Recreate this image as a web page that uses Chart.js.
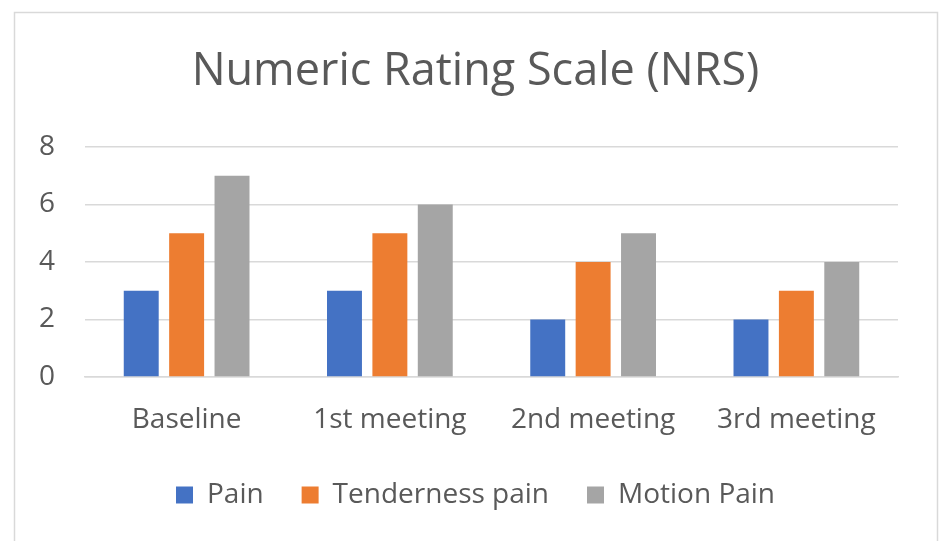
<!DOCTYPE html>
<html><head><meta charset="utf-8">
<script src="https://cdn.jsdelivr.net/npm/chart.js@4"></script>
<style>html,body{margin:0;padding:0;background:#fff}#wrap{width:944px;height:541px}</style>
</head><body><div id="wrap"><canvas id="c" width="944" height="541"></canvas></div>
<script>
const categories = ["Baseline", "1st meeting", "2nd meeting", "3rd meeting"];
const painValues = [3, 3, 2, 2];
const tendernessValues = [5, 5, 4, 3];
const motionValues = [7, 6, 5, 4];
const seriesNames = ["Pain", "Tenderness pain", "Motion Pain"];
const yTicks = [0, 2, 4, 6, 8];

const frame = {
  id: 'frame',
  beforeDraw(chart) {
    const ctx = chart.ctx;
    ctx.save();
    ctx.fillStyle = '#fff';
    ctx.fillRect(0, 0, chart.width, chart.height);
    ctx.strokeStyle = '#D9D9D9';
    ctx.lineWidth = 1.5;
    ctx.strokeRect(14.5, 12.5, 923, 600);
    ctx.restore();
  }
};

Chart.defaults.font.family = "'Open Sans', sans-serif";
Chart.defaults.color = '#595959';

new Chart(document.getElementById('c'), {
  type: 'bar',
  data: {
    labels: categories,
    datasets: [
      { label: seriesNames[0], data: painValues, backgroundColor: '#4472C4' },
      { label: seriesNames[1], data: tendernessValues, backgroundColor: '#ED7D31' },
      { label: seriesNames[2], data: motionValues, backgroundColor: '#A5A5A5' }
    ]
  },
  options: {
    responsive: false,
    animation: false,
    datasets: { bar: { categoryPercentage: 0.67, barPercentage: 0.77 } },
    layout: { padding: { left: 14, right: 7, top: 30, bottom: 22 } },
    plugins: {
      title: {
        display: true,
        text: 'Numeric Rating Scale (NRS)',
        color: '#595959',
        font: { size: 45, weight: 'normal', lineHeight: 1.2 },
        padding: { top: 15, bottom: 48 }
      },
      legend: {
        position: 'bottom',
        labels: {
          boxWidth: 17, boxHeight: 17, padding: 38,
          font: { size: 28 }, color: '#595959'
        }
      },
      tooltip: { enabled: false }
    },
    scales: {
      x: {
        afterFit(scale) { scale.height = 66; },
        grid: { display: false, drawTicks: false },
        border: { display: true, color: '#D9D9D9', width: 1.5 },
        ticks: { font: { size: 28 }, color: '#595959', padding: 26 }
      },
      y: {
        min: 0, max: 8,
        afterFit(scale) { scale.width = 71; },
        afterBuildTicks(scale) { scale.ticks = yTicks.map(v => ({ value: v })); },
        grid: { color: '#D9D9D9', lineWidth: 1.5, drawTicks: false },
        border: { display: false },
        ticks: { font: { size: 28 }, color: '#595959', padding: 30 }
      },
      yRight: {
        position: 'right',
        min: 0, max: 8,
        afterFit(scale) { scale.width = 39; },
        grid: { display: false, drawTicks: false },
        border: { display: false },
        ticks: { display: false }
      }
    }
  },
  plugins: [frame]
});
</script></body></html>
